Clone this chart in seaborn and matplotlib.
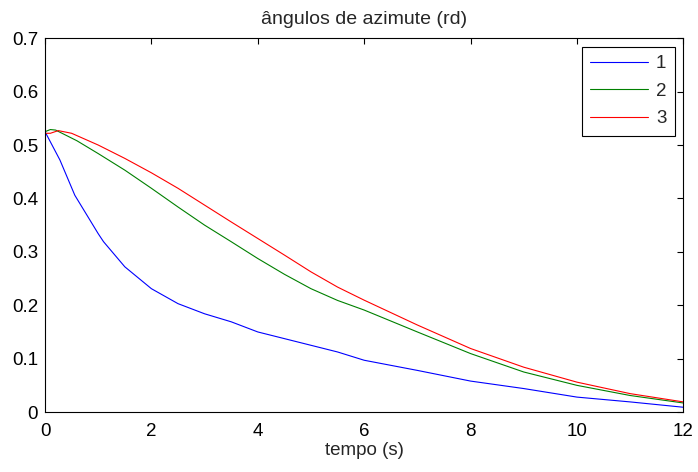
import numpy as np
import pandas as pd
import seaborn as sns
import matplotlib
matplotlib.use('Agg')
import matplotlib.pyplot as plt

# tempo (s) e angulos
t1 = [0, 0.28, 0.56, 1.0, 1.1, 1.5, 2.0, 2.5, 3.0, 3.5, 4.0, 4.5, 5.0, 5.5, 6.0, 7.0, 8.0, 9.0, 10.0, 11.0, 12.0]
az1 = [0.525, 0.472, 0.406, 0.334, 0.319, 0.272, 0.231, 0.203, 0.184, 0.169, 0.150, 0.1375, 0.125, 0.1125,
       0.097, 0.078, 0.058, 0.044, 0.028, 0.019, 0.009]

t2 = [0, 0.1, 0.2, 0.6, 1.0, 1.5, 2.0, 2.5, 3.0, 3.5, 4.0, 4.5, 5.0, 5.5, 6.0, 7.0, 8.0, 9.0, 10.0, 11.0, 12.0]
az2 = [0.525, 0.529, 0.528, 0.508, 0.484, 0.453, 0.419, 0.384, 0.350, 0.319, 0.2875, 0.258, 0.231, 0.209,
       0.191, 0.150, 0.1095, 0.075, 0.050, 0.031, 0.017]

t3 = [0, 0.1, 0.25, 0.5, 1.0, 1.5, 2.0, 2.5, 3.0, 3.5, 4.0, 4.5, 5.0, 5.5, 6.0, 7.0, 8.0, 9.0, 10.0, 11.0, 12.0]
az3 = [0.522, 0.522, 0.527, 0.522, 0.500, 0.475, 0.448, 0.419, 0.3875, 0.356, 0.325, 0.294, 0.2625, 0.234,
       0.2095, 0.163, 0.119, 0.084, 0.056, 0.0345, 0.019]

sns.set_style('white')
plt.rcParams['font.family'] = ['Liberation Sans', 'DejaVu Sans']

fig = plt.figure(figsize=(6.98, 4.72), dpi=100)
ax = fig.add_axes([0.0645, 0.127, 0.9145, 0.792])

sns.lineplot(x=t1, y=az1, color='#0000ff', linewidth=0.8, ax=ax)
sns.lineplot(x=t2, y=az2, color='#008000', linewidth=0.8, ax=ax)
sns.lineplot(x=t3, y=az3, color='#ff0000', linewidth=0.8, ax=ax)

ax.set_xlim(0, 12)
ax.set_ylim(0, 0.7)
ax.set_xticks(np.arange(0, 13, 2))
ax.set_yticks(np.arange(0, 0.71, 0.1))
ax.set_xticklabels([str(v) for v in range(0, 13, 2)])
ax.set_yticklabels(['0', '0.1', '0.2', '0.3', '0.4', '0.5', '0.6', '0.7'])
ax.tick_params(direction='in', top=True, right=True, length=4, width=0.8, labelsize=13.5, colors='black')
ax.tick_params(axis='x', pad=8)
ax.tick_params(axis='y', pad=5)
for s in ax.spines.values():
    s.set_color('black')
    s.set_linewidth(0.8)

ax.set_title('ângulos de azimute (rd)', fontsize=14, pad=10)
ax.set_xlabel('tempo (s)', fontsize=13.5, labelpad=1)
ax.set_ylabel('')

linhas = ax.get_lines()[:3]
leg = ax.legend(linhas, ['1', '2', '3'], loc='upper right', fontsize=13.5, frameon=True, fancybox=False,
                framealpha=1, handlelength=3.1, handletextpad=0.4, borderaxespad=0.45,
                labelspacing=0.55, borderpad=0.45)
leg.get_frame().set_edgecolor('black')
leg.get_frame().set_linewidth(0.8)

fig.savefig('out.png', dpi=100)
